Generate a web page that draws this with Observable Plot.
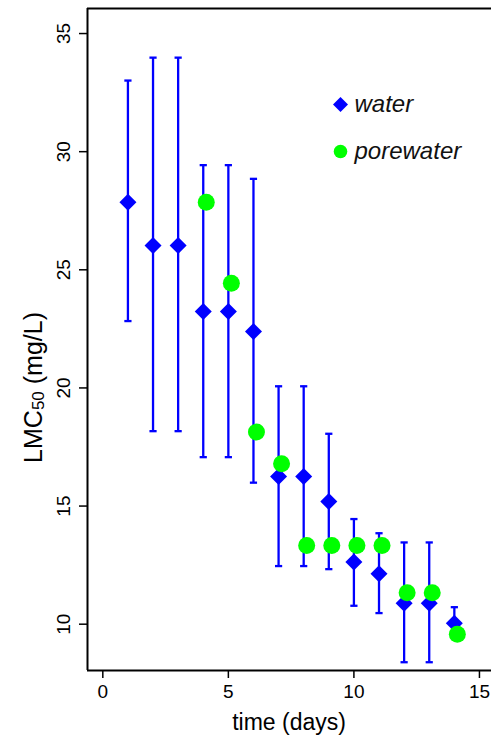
<!DOCTYPE html>
<html><head><meta charset="utf-8">
<script src="https://cdn.jsdelivr.net/npm/d3@7"></script>
<script src="https://cdn.jsdelivr.net/npm/@observablehq/plot@0.6"></script>
<style>body{margin:0;background:#fff} svg{display:block} #chart{width:491px;height:735px;overflow:hidden}</style>
</head><body><div id="chart"></div><script>
// ---- data ----
const days = [1, 2, 3, 4, 5, 6, 7, 8, 9, 10, 11, 12, 13, 14];
const water = [27.86, 26.03, 26.03, 23.24, 23.24, 22.39, 16.25, 16.25, 15.19, 12.63, 12.13, 10.89, 10.89, 10.04];
const waterHi = [33.01, 33.98, 33.98, 29.43, 29.43, 28.85, 20.07, 20.07, 18.06, 14.45, 13.85, 13.46, 13.46, 10.72];
const waterLo = [22.83, 18.17, 18.17, 17.07, 17.07, 15.99, 12.46, 12.46, 12.33, 10.78, 10.47, 8.39, 8.39, 9.70];
const poreDays = [4, 5, 6, 7, 8, 9, 10, 11, 12, 13, 14];
const porewater = [27.86, 24.43, 18.13, 16.79, 13.33, 13.33, 13.33, 13.33, 11.33, 11.33, 9.57];
const xTicks = [0, 5, 10, 15];
const yTicks = [10, 15, 20, 25, 30, 35];
const legendLabels = ["water", "porewater"];
const xDomain = [-0.61, 15.48];
const yDomain = [8.04, 36.06];

const waterData = days.map((d, i) => ({day: d, v: water[i], hi: waterHi[i], lo: waterLo[i]}));
const poreData = poreDays.map((d, i) => ({day: d, v: porewater[i]}));

const BLUE = "#0000ff", GREEN = "#00ff00";
const FONT = "Liberation Sans, Arial, sans-serif";

const diamond = {draw(ctx, size) { const r = Math.sqrt(size / Math.PI); ctx.moveTo(0, -r); ctx.lineTo(r, 0); ctx.lineTo(0, r); ctx.lineTo(-r, 0); ctx.closePath(); }};
const cap = {draw(ctx, size) { const r = Math.sqrt(size / Math.PI); ctx.moveTo(-r, 0); ctx.lineTo(r, 0); }};

const plot = Plot.plot({
  width: 491, height: 735,
  marginLeft: 87, marginTop: 8, marginBottom: 65, marginRight: 0,
  style: {fontFamily: FONT, color: "#000", background: "#fff"},
  x: {domain: xDomain},
  y: {domain: yDomain},
  marks: [
    // frame (left, top, bottom; right side is outside the picture)
    Plot.ruleX([xDomain[0]], {stroke: "#000", strokeWidth: 2}),
    Plot.ruleY(yDomain, {stroke: "#000", strokeWidth: 2}),
    Plot.axisX({ticks: xTicks, tickSize: 8, tickPadding: 6, fontSize: 19, label: null, stroke: "#000", strokeWidth: 1.5}),
    Plot.axisY({ticks: yTicks, tickSize: 8, tickFormat: () => "", label: null, stroke: "#000", strokeWidth: 1.5}),
    Plot.text(yTicks, {x: xDomain[0], y: d => d, text: d => String(d), rotate: -90, dx: -24, fontSize: 19, fill: "#000"}),
    // error bars
    Plot.ruleX(waterData, {x: "day", y1: "lo", y2: "hi", stroke: BLUE, strokeWidth: 2.3}),
    Plot.dot(waterData, {x: "day", y: "hi", symbol: cap, r: 3.6, stroke: BLUE, strokeWidth: 2.3}),
    Plot.dot(waterData, {x: "day", y: "lo", symbol: cap, r: 3.6, stroke: BLUE, strokeWidth: 2.3}),
    // points
    Plot.dot(waterData, {x: "day", y: "v", symbol: diamond, r: 8.5, fill: BLUE, stroke: "none"}),
    Plot.dot(poreData, {x: "day", y: "v", r: 8.5, fill: GREEN, stroke: "none", dx: 3}),
    // legend
    Plot.dot([legendLabels[0]], {frameAnchor: "top-left", dx: 253, dy: 96, symbol: diamond, r: 7.5, fill: BLUE, stroke: "none"}),
    Plot.dot([legendLabels[1]], {frameAnchor: "top-left", dx: 253, dy: 143, r: 6.8, fill: GREEN, stroke: "none"}),
    Plot.text([legendLabels[0]], {frameAnchor: "top-left", dx: 267, dy: 96, text: d => d, textAnchor: "start", lineAnchor: "middle", fontSize: 24, fontStyle: "italic", fill: "#111"}),
    Plot.text([legendLabels[1]], {frameAnchor: "top-left", dx: 267, dy: 143, text: d => d, textAnchor: "start", lineAnchor: "middle", fontSize: 24, fontStyle: "italic", fill: "#111"})
  ]
});

const svg = d3.select(plot);
const xr = plot.scale("x").range;
svg.append("text")
  .attr("x", (xr[0] + xr[1]) / 2).attr("y", 722)
  .attr("text-anchor", "middle").attr("dominant-baseline", "central")
  .attr("font-family", FONT).attr("font-size", 23).attr("fill", "#000")
  .text("time (days)");
const yt = svg.append("text")
  .attr("transform", `translate(33,${plot.scale("y").apply(20)}) rotate(-90)`)
  .attr("text-anchor", "middle").attr("dominant-baseline", "central")
  .attr("font-family", FONT).attr("font-size", 25).attr("fill", "#000");
yt.append("tspan").text("LMC");
yt.append("tspan").attr("font-size", 17).attr("dy", 5).text("50");
yt.append("tspan").attr("dy", -5).text(" (mg/L)");

document.getElementById("chart").append(plot);
</script></body></html>
